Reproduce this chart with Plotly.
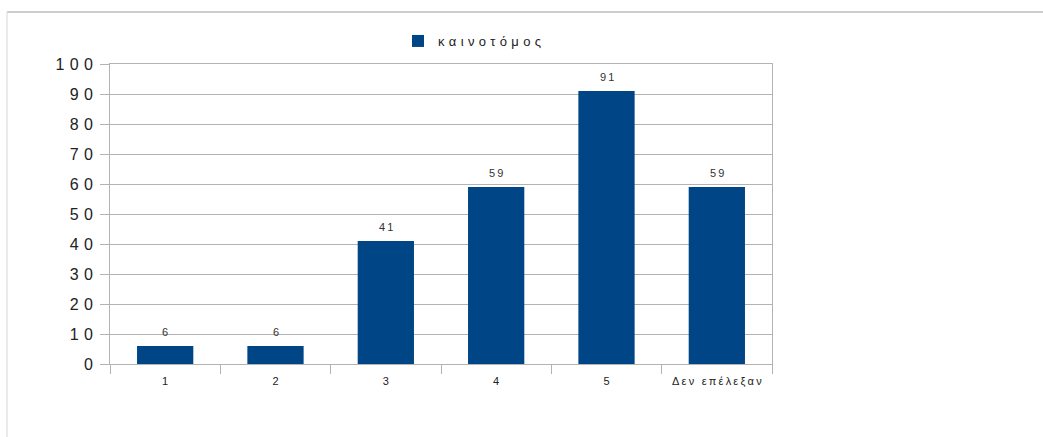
import plotly.graph_objects as go

categories = ["1", "2", "3", "4", "5", "Δεν επέλεξαν"]
values = [6, 6, 41, 59, 91, 59]
series_name = "καινοτόμος"
y_ticks = [0, 10, 20, 30, 40, 50, 60, 70, 80, 90, 100]

W, H = 1043, 437
L, R, T, B = 110, 271, 64, 73
pw, ph = W - L - R, H - T - B

FONT = "Liberation Sans, Arial, sans-serif"


def px_x(x):
    return (x - L) / pw


def px_y(y):
    return (H - B - y) / ph


def spaced(s, gap):
    # widen the tracking of a label by inserting a narrow space between glyphs
    return gap.join(s)


THIN = "\u2009"
THREE = "\u2004"

fig = go.Figure()
fig.add_trace(go.Bar(
    x=categories,
    y=values,
    name=spaced(series_name, THREE),
    marker=dict(color="#004586", line=dict(width=0)),
    showlegend=True,
))

# value labels above each bar (x given as category index)
for i, v in enumerate(values):
    fig.add_annotation(
        x=i, y=v, text=spaced(str(v), THIN),
        showarrow=False, yanchor="bottom", yshift=6,
        font=dict(family=FONT, size=11, color="#333333"),
    )

# outer frame: top and left edges
fig.add_shape(type="line", xref="paper", yref="paper",
              x0=px_x(7), x1=px_x(W), y0=px_y(12), y1=px_y(12),
              line=dict(color="#bdbdbd", width=1.5))
fig.add_shape(type="line", xref="paper", yref="paper",
              x0=px_x(7), x1=px_x(7), y0=px_y(12), y1=px_y(H),
              line=dict(color="#e3e3e3", width=1.5))

fig.update_layout(
    width=W, height=H,
    margin=dict(l=L, r=R, t=T, b=B, pad=0),
    paper_bgcolor="white",
    plot_bgcolor="white",
    bargap=0.49,
    font=dict(family=FONT, color="#222222"),
    legend=dict(
        orientation="h",
        x=px_x(398), xanchor="left",
        y=px_y(41), yanchor="middle",
        font=dict(size=13, color="#222222"),
        itemwidth=30,
    ),
    xaxis=dict(
        type="category",
        tickmode="array",
        tickvals=categories,
        ticktext=[spaced(c, THIN) for c in categories],
        showgrid=False,
        showline=True, linecolor="#b3b3b3", linewidth=1, mirror=True,
        ticks="outside", tickson="boundaries", ticklen=9, tickcolor="#b3b3b3",
        ticklabelstandoff=7,
        tickfont=dict(size=11, color="#222222"),
        fixedrange=True,
    ),
    yaxis=dict(
        range=[0, 100],
        tickmode="array",
        tickvals=y_ticks,
        ticktext=[spaced(str(t), THREE) for t in y_ticks],
        showgrid=True, gridcolor="#b3b3b3", gridwidth=1,
        showline=True, linecolor="#b3b3b3", linewidth=1, mirror=True,
        ticks="outside", ticklen=9, tickcolor="#b3b3b3",
        ticklabelstandoff=4,
        tickfont=dict(size=16, color="#222222"),
        zeroline=False,
        fixedrange=True,
    ),
)

fig.write_html("out.html")
